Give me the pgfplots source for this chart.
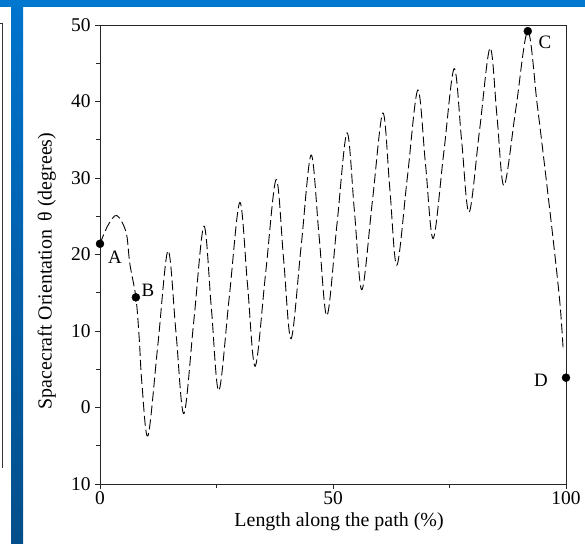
\documentclass[border=0pt]{standalone}
\usepackage{pgfplots}
\pgfplotsset{compat=1.18}
\usepackage{fontspec}
\setmainfont{Liberation Serif}

\definecolor{barblue}{RGB}{0,120,208}
\definecolor{bartop}{RGB}{0,115,205}
\definecolor{barbottom}{RGB}{4,78,138}

\begin{document}
\begin{tikzpicture}
\path[use as bounding box] (0,0) rectangle (585bp,-544bp);
% slide frame
\fill[barblue] (0,0) rectangle (585bp,-7bp);
\shade[top color=bartop, bottom color=barbottom] (11bp,-7bp) rectangle (23bp,-544bp);
\draw[line width=0.8bp, black!80] (0,-23bp) -- (2bp,-23bp) -- (2bp,-468bp);

\begin{axis}[
  at={(100bp,-484bp)}, anchor=south west,
  scale only axis, width=466bp, height=459bp,
  xmin=0, xmax=100, ymin=-10, ymax=50,
  xtick={0,50,100},
  ytick={-10,0,10,20,30,40,50},
  yticklabels={10,0,10,20,30,40,50},
  minor tick num=1,
  tick align=outside, tick pos=left,
  major tick length=5bp, minor tick length=4bp,
  axis line style={line width=0.8bp, black!85},
  every tick/.style={line width=0.8bp, black!85},
  /pgf/number format/assume math mode=true,
  ticklabel style={font=\fontsize{19.5}{20}\selectfont},
  xticklabel style={yshift=-1.5bp, inner sep=1bp},
  yticklabel style={xshift=-1bp},
  xlabel={Length along the path (\%)},
  ylabel={Spacecraft Orientation\, θ (degrees)},
  label style={font=\fontsize{20}{20}\selectfont},
  xlabel style={at={(axis description cs:0.513,-0.093)}, anchor=base},
  ylabel style={at={(axis description cs:-0.114,0.464)}, anchor=center},
  clip=false,
]
% orientation angle along the path
\addplot[black, line width=0.9bp, dash pattern=on 10bp off 4bp, smooth, tension=0.55] coordinates {
 (0,21.4) (1.7,23.8) (3.6,25.1) (5.6,22.9) (6.4,18.8) (7.7,14.4)
 (8.4,9.2) (9.0,3.1) (10.3,-3.7) (12.45,8.4) (14.6,20.5) (16.3,9.85)
 (18.0,-0.8) (20.15,11.45) (22.3,23.7) (23.9,12.95) (25.5,2.2) (27.75,14.5)
 (30.0,26.8) (31.65,16.1) (33.3,5.4) (35.55,17.6) (37.8,29.8) (39.4,19.4)
 (41.0,9.0) (43.15,21.0) (45.3,33.0) (47.0,22.5) (48.7,12.0) (50.85,23.95)
 (53.0,35.9) (54.6,25.65) (56.2,15.4) (58.45,26.95) (60.7,38.5) (62.2,28.55)
 (63.7,18.6) (65.95,30.05) (68.2,41.5) (69.85,31.8) (71.5,22.1) (73.75,33.2)
 (76.0,44.3) (77.6,34.9) (79.2,25.5) (81.45,36.25) (83.7,47.0) (85.2,38.0)
 (86.7,29.0) (89.25,39.1) (91.8,49.2) (93.8,39.7) (95.1,33.2) (97.2,22.2)
 (98.7,13.6) (99.4,7.5)
};
% marked orientations A, B, C, D
\addplot[only marks, mark=*, mark size=4bp, black] coordinates {
 (0,21.4) (7.7,14.4) (91.8,49.2) (100,3.9)
};
\node[font=\fontsize{19}{19}\selectfont] at (axis cs:3.2,19.7) {A};
\node[font=\fontsize{19}{19}\selectfont] at (axis cs:10.3,15.3) {B};
\node[font=\fontsize{19}{19}\selectfont] at (axis cs:95.5,47.8) {C};
\node[font=\fontsize{19}{19}\selectfont] at (axis cs:94.6,3.5) {D};
\end{axis}
\end{tikzpicture}
\end{document}
